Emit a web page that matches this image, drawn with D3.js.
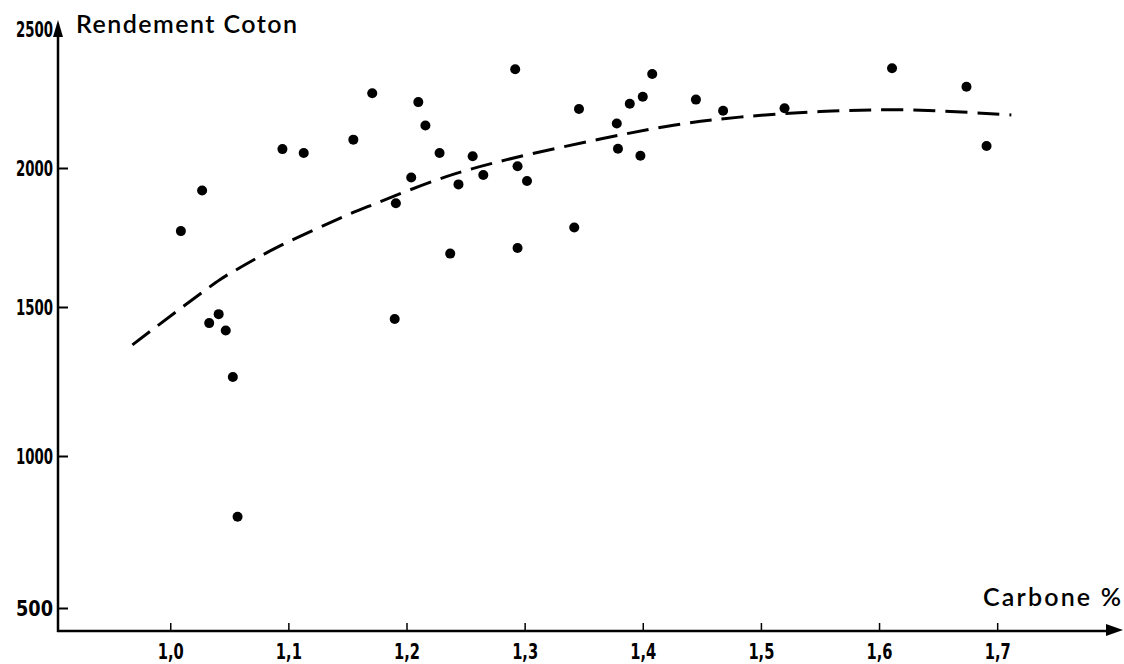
<!DOCTYPE html>
<html>
<head>
<meta charset="utf-8">
<script src="https://cdn.jsdelivr.net/npm/d3@7/dist/d3.min.js"></script>
<style>
  body { margin: 0; background: #fff; }
  svg { display: block; }
  .tick text {
    font-family: 'Liberation Sans Narrow', 'DejaVu Sans Condensed', sans-serif;
    font-weight: bold;
    font-size: 22px;
    fill: #000;
  }
  .label {
    font-family: Lato, 'Open Sans', sans-serif;
    font-size: 25px;
    fill: #000;
  }
</style>
</head>
<body>
<div id="chart"></div>
<script>
// scatter points
const carbone = [
  1.009, 1.027, 1.033, 1.041, 1.047, 1.053, 1.057, 1.095, 1.113, 1.155,
  1.171, 1.190, 1.191, 1.204, 1.210, 1.216, 1.228, 1.237, 1.244, 1.256,
  1.265, 1.292, 1.294, 1.294, 1.302, 1.342, 1.346, 1.378, 1.379, 1.389,
  1.398, 1.400, 1.408, 1.445, 1.468, 1.520, 1.611, 1.674, 1.691
];
const rendement = [
  1773, 1919, 1446, 1476, 1421, 1265, 800, 2068, 2054, 2102,
  2269, 1460, 1873, 1966, 2237, 2153, 2054, 1692, 1941, 2042,
  1975, 2355, 1712, 2006, 1953, 1786, 2212, 2160, 2069, 2231,
  2044, 2256, 2338, 2246, 2206, 2215, 2359, 2292, 2079
];

// fitted dashed curve, sampled along the drawn line
const curveCarbone = [0.968, 1.042, 1.056, 1.092, 1.149, 1.169, 1.233, 1.285, 1.364, 1.426, 1.482, 1.550, 1.623, 1.712];
const curveRendement = [1373, 1598, 1634, 1718, 1829, 1864, 1968, 2030, 2104, 2154, 2183, 2203, 2209, 2191];

const xTicks = [1.0, 1.1, 1.2, 1.3, 1.4, 1.5, 1.6, 1.7];
const yTicks = [500, 1000, 1500, 2000, 2500];

const width = 1124;
const height = 664;
const x0 = 58;    // y axis position
const y0 = 631;   // x axis position

const svg = d3.select('#chart')
  .append('svg')
  .attr('width', width)
  .attr('height', height);

const xScale = d3.scaleLinear().domain([0.905, 1.8065]).range([x0, 1123]);
// the printed y axis is not evenly spaced, so map each labelled value
const yScale = d3.scaleLinear().domain(yTicks).range([608, 456, 307, 168, 29]);

// y axis
const yAxis = svg.append('g')
  .attr('transform', `translate(${x0},0)`)
  .call(d3.axisLeft(yScale).tickValues(yTicks).tickSize(-10).tickPadding(5).tickFormat(d3.format('d')));
yAxis.select('.domain').remove();
yAxis.selectAll('.tick line').attr('stroke', '#000').attr('stroke-width', 2);
yAxis.selectAll('.tick').filter(d => d === 2500).select('line').remove();
// printed digits are very narrow
yAxis.selectAll('.tick text')
  .attr('textLength', 37)
  .attr('lengthAdjust', 'spacingAndGlyphs');

svg.append('line')
  .attr('x1', x0).attr('x2', x0)
  .attr('y1', y0 + 1).attr('y2', 30)
  .attr('stroke', '#000').attr('stroke-width', 2.5);
svg.append('path')
  .attr('d', `M${x0},20 L${x0 - 5},37 L${x0 + 5},37 Z`)
  .attr('fill', '#000');

// x axis
const xAxis = svg.append('g')
  .attr('transform', `translate(0,${y0})`)
  .call(d3.axisBottom(xScale).tickValues(xTicks).tickSize(-8).tickPadding(13)
    .tickFormat(d => d.toFixed(1).replace('.', ',')));
xAxis.select('.domain').remove();
xAxis.selectAll('.tick line').attr('stroke', '#000').attr('stroke-width', 1.5);
xAxis.selectAll('.tick text')
  .style('font-size', '21px')
  .attr('textLength', 26)
  .attr('lengthAdjust', 'spacingAndGlyphs');

svg.append('line')
  .attr('x1', x0 - 1).attr('x2', 1110)
  .attr('y1', y0).attr('y2', y0)
  .attr('stroke', '#000').attr('stroke-width', 2.5);
svg.append('path')
  .attr('d', `M1123,${y0 - 1} L1106,${y0 - 7} L1106,${y0 + 5} Z`)
  .attr('fill', '#000');

// axis titles
svg.append('text')
  .attr('class', 'label')
  .attr('x', 76).attr('y', 33)
  .attr('textLength', 221)
  .attr('lengthAdjust', 'spacing')
  .style('font-weight', 600)
  .text('Rendement Coton');

svg.append('text')
  .attr('class', 'label')
  .attr('x', 983).attr('y', 606)
  .attr('textLength', 138)
  .attr('lengthAdjust', 'spacing')
  .style('font-weight', 600)
  .text('Carbone %');

// dashed regression curve
const curveData = curveCarbone.map((c, i) => ({ c, r: curveRendement[i] }));
const line = d3.line()
  .x(d => xScale(d.c))
  .y(d => yScale(d.r))
  .curve(d3.curveCatmullRom);

svg.append('path')
  .datum(curveData)
  .attr('d', line)
  .attr('fill', 'none')
  .attr('stroke', '#000')
  .attr('stroke-width', 3)
  .attr('stroke-dasharray', '22,10');

// points
const points = carbone.map((c, i) => ({ c, r: rendement[i] }));
svg.append('g')
  .selectAll('circle')
  .data(points)
  .join('circle')
  .attr('cx', d => xScale(d.c))
  .attr('cy', d => yScale(d.r))
  .attr('r', 5)
  .attr('fill', '#000');
</script>
</body>
</html>
